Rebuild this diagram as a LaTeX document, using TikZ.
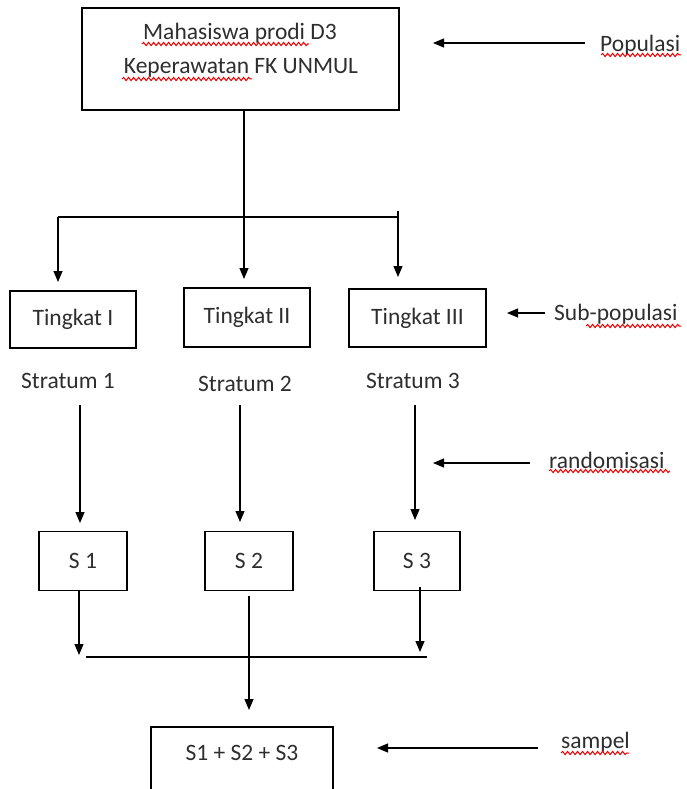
\documentclass[tikz,border=0pt]{standalone}
\usepackage{fontspec}
\setmainfont{Carlito}
\usetikzlibrary{arrows.meta,decorations.pathmorphing}
\begin{document}
\begin{tikzpicture}[x=1pt,y=-1pt,
  box/.style={draw,line width=1.2pt,inner sep=0pt},
  lbl/.style={font=\fontsize{23.5}{28}\selectfont,text=black!82,inner sep=0pt},
  conn/.style={line width=1.2pt},
  arr/.style={line width=1.2pt,-{Triangle[length=11pt,width=9pt]}},
  squig/.style={red!90!black,line width=1pt,decorate,decoration={snake,amplitude=1.6pt,segment length=5pt}}]
\useasboundingbox (0,0) rectangle (686,789);
% boxes
\node[box,minimum width=317pt,minimum height=102pt] (top) at (240.5,59) {};
\node[lbl] (topa) at (240,33) {Mahasiswa prodi D3};
\node[lbl] (topb) at (241,68) {Keperawatan FK UNMUL};
\node[box,lbl,draw,line width=1.2pt,minimum width=126pt,minimum height=57pt] (t1) at (73,319.5) {Tingkat I};
\node[box,lbl,draw,line width=1.2pt,minimum width=126pt,minimum height=59pt] (t2) at (247,317.5) {Tingkat II};
\node[box,lbl,draw,line width=1.2pt,minimum width=137pt,minimum height=58pt] (t3) at (417.5,318) {Tingkat III};
\node[lbl] (st1) at (68,381) {Stratum 1};
\node[lbl] (st2) at (245,384) {Stratum 2};
\node[lbl] (st3) at (413,381) {Stratum 3};
\node[box,lbl,draw,line width=1.2pt,minimum width=88pt,minimum height=59pt] (s1) at (83,561) {S 1};
\node[box,lbl,draw,line width=1.2pt,minimum width=88pt,minimum height=59pt] (s2) at (249,561) {S 2};
\node[box,lbl,draw,line width=1.2pt,minimum width=86pt,minimum height=59pt] (s3) at (417,561) {S 3};
\node[box,minimum width=182pt,minimum height=66pt] (sum) at (242,760) {};
\node[lbl] (sumt) at (242,753) {S1 + S2 + S3};
% side labels
\node[lbl,anchor=west] (pop) at (600,45) {Populasi};
\node[lbl,anchor=west] (sub) at (554,314) {Sub-populasi};
\node[lbl,anchor=west] (rnd) at (549,460) {randomisasi};
\node[lbl,anchor=west] (smp) at (561,742) {sampel};
% spell-check underlines
\draw[squig] (142,44) -- (309,44);
\draw[squig] (122,79) -- (252,79);
\draw[squig] (601,55) -- (681,55);
\draw[squig] (586,326) -- (681,326);
\draw[squig] (549,471) -- (670,471);
\draw[squig] (561,753) -- (629,753);
% coordinates
\coordinate (ja) at (244,217);
\coordinate (jl) at (58,217);
\coordinate (jr) at (398,217);
\coordinate (jrt) at (398,211);
\coordinate (jb) at (86,657);
\coordinate (je) at (427,657);
% top tree
\draw[arr] (top.south -| ja) -- (244,279);
\draw[conn] (jl) -- (jr);
\draw[arr] (jl) -- (58,282);
\draw[arr] (jrt) -- (398,277);
% stratum to S
\draw[arr] (80,405) -- (80,523);
\draw[arr] (240,405) -- (240,522);
\draw[arr] (415,405) -- (415,520);
% S to sum
\draw[arr] (s1.south -| 79,0) -- (79,655);
\draw[arr] (420,587) -- (420,652);
\draw[conn] (jb) -- (je);
\draw[arr] (249,596) -- (249,710);
% side arrows
\draw[arr] (585,43) -- (433,43);
\draw[arr] (545,313) -- (507,313);
\draw[arr] (530,463) -- (433,463);
\draw[arr] (538,748) -- (377,748);
\end{tikzpicture}
\end{document}
